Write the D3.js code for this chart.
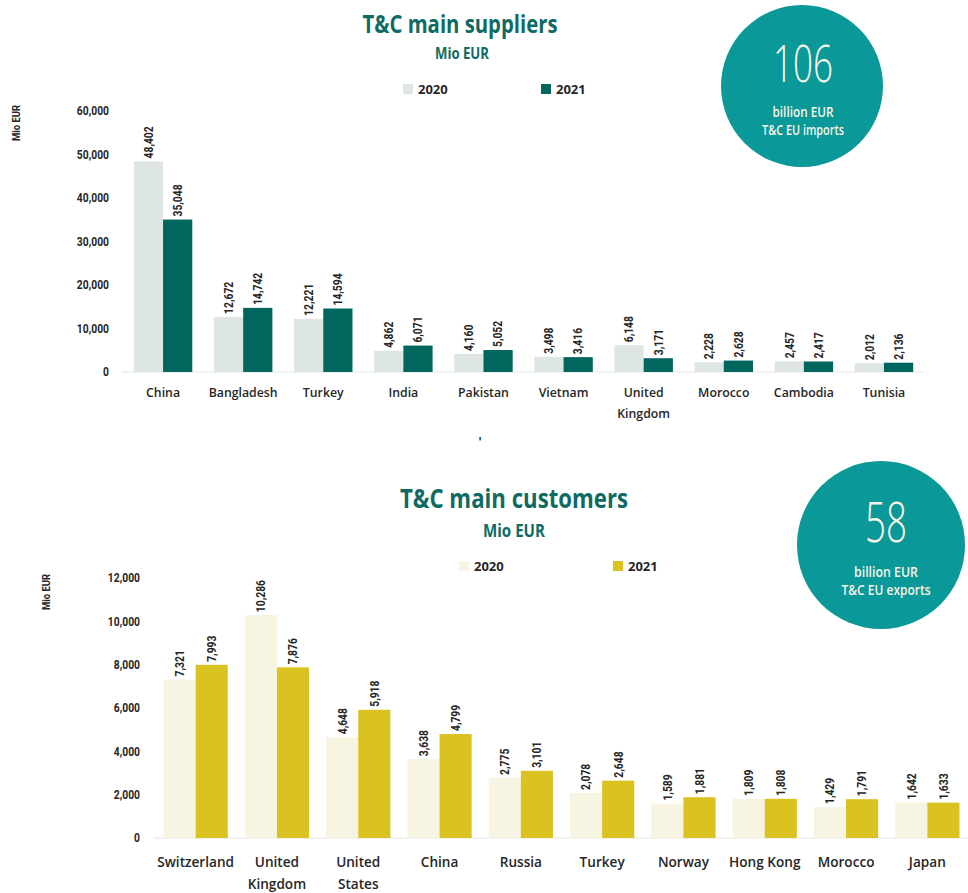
<!DOCTYPE html>
<html>
<head>
<meta charset="utf-8">
<script src="https://cdn.jsdelivr.net/npm/d3@7/dist/d3.min.js"></script>
<style>
  html, body { margin: 0; padding: 0; background: #ffffff; }
  svg { display: block; }
</style>
</head>
<body>
<svg id="chart" width="968" height="893"></svg>
<script>
// ---- data -------------------------------------------------------------
const years = ["2020", "2021"];

const suppliers = ["China", "Bangladesh", "Turkey", "India", "Pakistan", "Vietnam",
                   "United Kingdom", "Morocco", "Cambodia", "Tunisia"];
const imports2020 = [48402, 12672, 12221, 4862, 4160, 3498, 6148, 2228, 2457, 2012];
const imports2021 = [35048, 14742, 14594, 6071, 5052, 3416, 3171, 2628, 2417, 2136];
const importTicks = [0, 10000, 20000, 30000, 40000, 50000, 60000];
const importsTotal = "106";

const customers = ["Switzerland", "United Kingdom", "United States", "China", "Russia",
                   "Turkey", "Norway", "Hong Kong", "Morocco", "Japan"];
const exports2020 = [7321, 10286, 4648, 3638, 2775, 2078, 1589, 1809, 1429, 1642];
const exports2021 = [7993, 7876, 5918, 4799, 3101, 2648, 1881, 1808, 1791, 1633];
const exportTicks = [0, 2000, 4000, 6000, 8000, 10000, 12000];
const exportsTotal = "58";

// ---- shared styling ---------------------------------------------------
const TEAL_TITLE = "#0f6a64";
const CIRCLE = "#0a9898";
const CIRCLE_TEXT = "#f6f4e6";
const INK = "#262626";
const NARROW = 0.86;            // horizontal squeeze for the small number labels
const numFmt = d3.format(",");

const svg = d3.select("#chart");

function drawPanel(cfg) {
  const g = svg.append("g");
  const rows = cfg.categories.map((c, i) => ({ name: c, values: [cfg.v2020[i], cfg.v2021[i]] }));

  const y = d3.scaleLinear().domain([0, cfg.yMax]).range([cfg.baseY, cfg.topY]);
  const x = d3.scaleBand().domain(cfg.categories).range(cfg.xRange)
    .paddingInner(cfg.padIn).paddingOuter(cfg.padOut);
  const xs = d3.scaleBand().domain(years).range([0, x.bandwidth()]);
  const color = d3.scaleOrdinal().domain(years).range(cfg.colors);

  // title + unit
  g.append("text").attr("x", cfg.titleX).attr("y", cfg.titleY)
    .attr("text-anchor", "middle").attr("fill", TEAL_TITLE)
    .attr("font-family", "Open Sans, sans-serif").attr("font-weight", 700)
    .attr("font-size", cfg.titleSize).attr("textLength", cfg.titleLen)
    .attr("lengthAdjust", "spacingAndGlyphs").text(cfg.title);
  g.append("text").attr("x", cfg.subX).attr("y", cfg.subY)
    .attr("text-anchor", "middle").attr("fill", TEAL_TITLE)
    .attr("font-family", "Open Sans, sans-serif").attr("font-weight", 700)
    .attr("font-size", cfg.subSize).attr("textLength", cfg.subLen)
    .attr("lengthAdjust", "spacingAndGlyphs").text("Mio EUR");

  // legend
  const lg = g.selectAll("g.legend").data(years).join("g")
    .attr("transform", (d, i) => `translate(${cfg.legendX[i]},${cfg.legendY})`);
  lg.append("rect").attr("width", 10).attr("height", 10).attr("fill", d => color(d));
  lg.append("text").attr("x", 15).attr("y", 10)
    .attr("font-family", "Open Sans, sans-serif").attr("font-weight", 700)
    .attr("font-size", 13).attr("fill", INK).text(d => d);

  // y axis label
  g.append("text")
    .attr("transform", `translate(${cfg.yLabelX},${cfg.yLabelY}) rotate(-90) scale(${NARROW},1)`)
    .attr("text-anchor", "middle").attr("dy", "0.35em")
    .attr("font-family", "Roboto, sans-serif").attr("font-weight", 700)
    .attr("font-size", 11).attr("fill", INK).text("Mio EUR");

  // y tick labels (no axis line)
  const yAxis = d3.axisLeft(y).tickValues(cfg.ticks).tickFormat(d => d === 0 ? "0" : numFmt(d))
    .tickSize(0).tickPadding(0);
  const ya = g.append("g").attr("transform", `translate(${cfg.tickX},0)`).call(yAxis);
  ya.select(".domain").remove();
  ya.selectAll("text").attr("font-family", "Roboto, sans-serif").attr("font-weight", 700)
    .attr("font-size", 12).attr("fill", INK).attr("transform", `scale(${NARROW},1)`);

  // baseline
  g.append("line").attr("x1", cfg.xRange[0] - 1).attr("x2", cfg.xRange[1] + 1)
    .attr("y1", y(0)).attr("y2", y(0)).attr("stroke", "#ececec").attr("stroke-width", 1.5);

  // bars
  const grp = g.selectAll("g.cat").data(rows).join("g")
    .attr("transform", d => `translate(${x(d.name)},0)`);
  const cells = d => years.map((yr, i) => ({ yr, v: d.values[i] }));
  grp.selectAll("rect").data(cells).join("rect")
    .attr("x", d => xs(d.yr)).attr("width", xs.bandwidth())
    .attr("y", d => y(d.v)).attr("height", d => y(0) - y(d.v))
    .attr("fill", d => color(d.yr));

  // value labels, rotated above each bar
  grp.selectAll("text.val").data(cells).join("text")
    .attr("class", "val")
    .attr("transform", d =>
      `translate(${xs(d.yr) + xs.bandwidth() / 2},${y(d.v) - 3}) rotate(-90) scale(${NARROW},1)`)
    .attr("dy", "0.36em")
    .attr("font-family", "Roboto, sans-serif").attr("font-weight", 700)
    .attr("font-size", 12).attr("fill", INK).text(d => numFmt(d.v));

  // category labels, wrapped onto two lines when wider than a band step
  grp.each(function (d) {
    const t = d3.select(this).append("text")
      .attr("x", x.bandwidth() / 2).attr("y", y(0) + cfg.catDy)
      .attr("text-anchor", "middle")
      .attr("font-family", "Open Sans, sans-serif").attr("font-weight", 600)
      .attr("font-size", cfg.catSize).attr("fill", INK).text(d.name);
    if (t.node().getComputedTextLength() > x.step() && d.name.includes(" ")) {
      const parts = d.name.split(" ");
      t.text(null);
      parts.forEach((p, i) => t.append("tspan").attr("x", x.bandwidth() / 2)
        .attr("dy", i === 0 ? 0 : cfg.catLine).text(p));
    }
  });

  // total bubble
  const c = g.append("g");
  c.append("circle").attr("cx", cfg.circle[0]).attr("cy", cfg.circle[1]).attr("r", cfg.circle[2])
    .attr("fill", CIRCLE);
  const lines = [
    { t: cfg.total, y: cfg.bubbleY[0], size: cfg.bigSize, w: 300, len: cfg.bubbleLen[0] },
    { t: "billion EUR", y: cfg.bubbleY[1], size: 13.5, w: 600, len: cfg.bubbleLen[1] },
    { t: cfg.bubbleCaption, y: cfg.bubbleY[2], size: 13.5, w: 600, len: cfg.bubbleLen[2] }
  ];
  c.selectAll("text").data(lines).join("text")
    .attr("x", cfg.bubbleTextX).attr("y", d => d.y).attr("text-anchor", "middle")
    .attr("font-family", "Open Sans, sans-serif").attr("font-weight", d => d.w)
    .attr("font-size", d => d.size).attr("fill", CIRCLE_TEXT)
    .attr("textLength", d => d.len).attr("lengthAdjust", "spacingAndGlyphs")
    .text(d => d.t);
}

drawPanel({
  title: "T&C main suppliers", titleX: 460, titleY: 33, titleSize: 25, titleLen: 195,
  subX: 462, subY: 59, subSize: 16, subLen: 54,
  legendX: [403, 541], legendY: 84,
  categories: suppliers, v2020: imports2020, v2021: imports2021,
  colors: ["#dde5e5", "#01665e"],
  yMax: 60000, ticks: importTicks, baseY: 372, topY: 111,
  xRange: [123, 924], padIn: 0.27, padOut: 0.135,
  tickX: 109, yLabelX: 16, yLabelY: 123,
  catDy: 25, catLine: 21, catSize: 12.3,
  circle: [802, 86, 81], bubbleTextX: 803, total: importsTotal,
  bubbleCaption: "T&C EU imports", bigSize: 52,
  bubbleY: [82, 117, 135], bubbleLen: [60, 61, 82]
});

drawPanel({
  title: "T&C main customers", titleX: 514, titleY: 508, titleSize: 27, titleLen: 228,
  subX: 514, subY: 537, subSize: 17, subLen: 62,
  legendX: [459, 613], legendY: 561,
  categories: customers, v2020: exports2020, v2021: exports2021,
  colors: ["#f8f4e2", "#dac220"],
  yMax: 12000, ticks: exportTicks, baseY: 838, topY: 578,
  xRange: [155, 968], padIn: 0.21, padOut: 0.105,
  tickX: 140, yLabelX: 46, yLabelY: 592,
  catDy: 29, catLine: 22, catSize: 13.6,
  circle: [881, 545, 84], bubbleTextX: 886, total: exportsTotal,
  bubbleCaption: "T&C EU exports", bigSize: 56,
  bubbleY: [542, 577, 595], bubbleLen: [42, 64, 89]
});

// small stray mark between the two panels
svg.append("text").attr("x", 480).attr("y", 447).attr("text-anchor", "middle")
  .attr("font-family", "Roboto, sans-serif").attr("font-weight", 700)
  .attr("font-size", 13).attr("fill", "#111").text("'");
</script>
</body>
</html>
